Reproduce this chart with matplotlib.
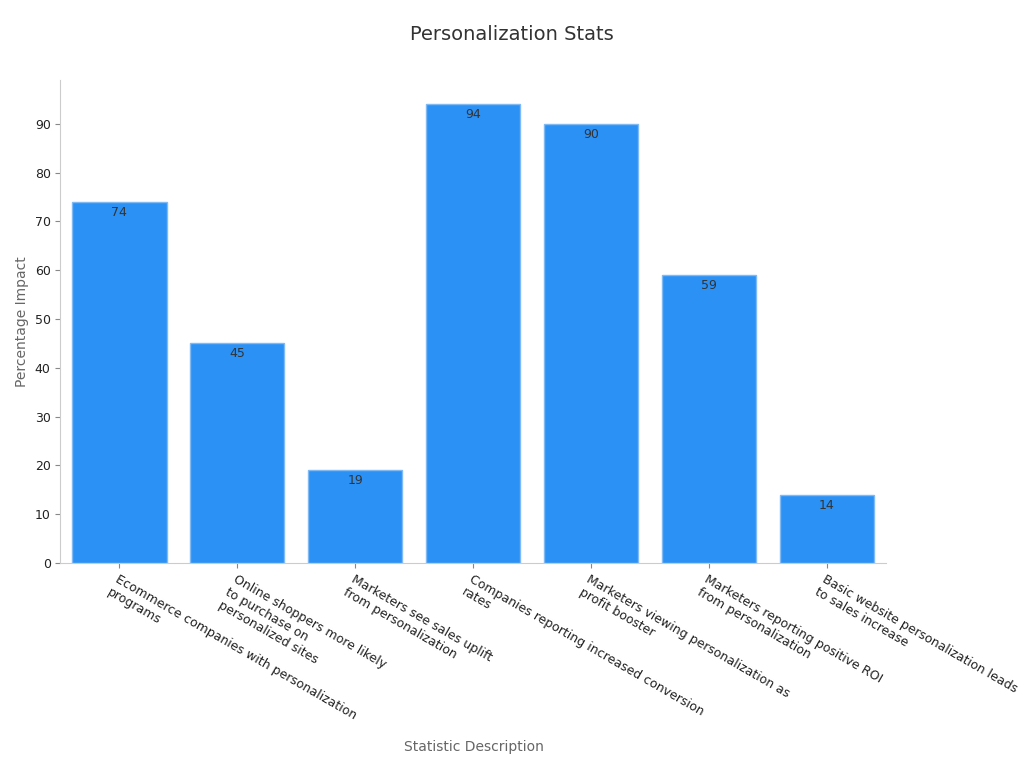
import matplotlib
matplotlib.use("Agg")
import matplotlib.pyplot as plt

categories = [
    "Ecommerce companies with personalization\nprograms",
    "Online shoppers more likely\nto purchase on\npersonalized sites",
    "Marketers see sales uplift\nfrom personalization",
    "Companies reporting increased conversion\nrates",
    "Marketers viewing personalization as\nprofit booster",
    "Marketers reporting positive ROI\nfrom personalization",
    "Basic website personalization leads\nto sales increase",
]
values = [74, 45, 19, 94, 90, 59, 14]

plt.rcParams["font.family"] = "DejaVu Sans"
fig = plt.figure(figsize=(10.24, 7.68), dpi=100)
ax = fig.add_axes([0.059, 0.267, 0.806, 0.629])
x = range(len(values))
bars = ax.bar(x, values, width=0.8, color="#2b91f5", edgecolor="#7fbaf5", linewidth=1)
for xi, v in zip(x, values):
    ax.text(xi, v - 0.8, str(v), ha="center", va="top", fontsize=9, color="#333333")
ax.set_ylim(0, 99)
ax.set_xlim(-0.5, 6.5)
ax.set_yticks(range(0, 91, 10))
ax.set_xticks(list(x))
ax.set_xticklabels(categories, rotation=-30, ha="left", rotation_mode="anchor",
                   fontsize=9, color="#222222")
ax.tick_params(axis="y", labelsize=9, colors="#222222")
ax.tick_params(axis="both", color="#888888")
for s in ["top", "right"]:
    ax.spines[s].set_visible(False)
for s in ["left", "bottom"]:
    ax.spines[s].set_color("#cccccc")
ax.set_ylabel("Percentage Impact", fontsize=10, color="#666666")
fig.text(0.463, 0.022, "Statistic Description", ha="center", fontsize=10, color="#666666")
fig.text(0.5, 0.955, "Personalization Stats", ha="center", va="center", fontsize=14, color="#333333")
fig.savefig("out.png", dpi=100)
